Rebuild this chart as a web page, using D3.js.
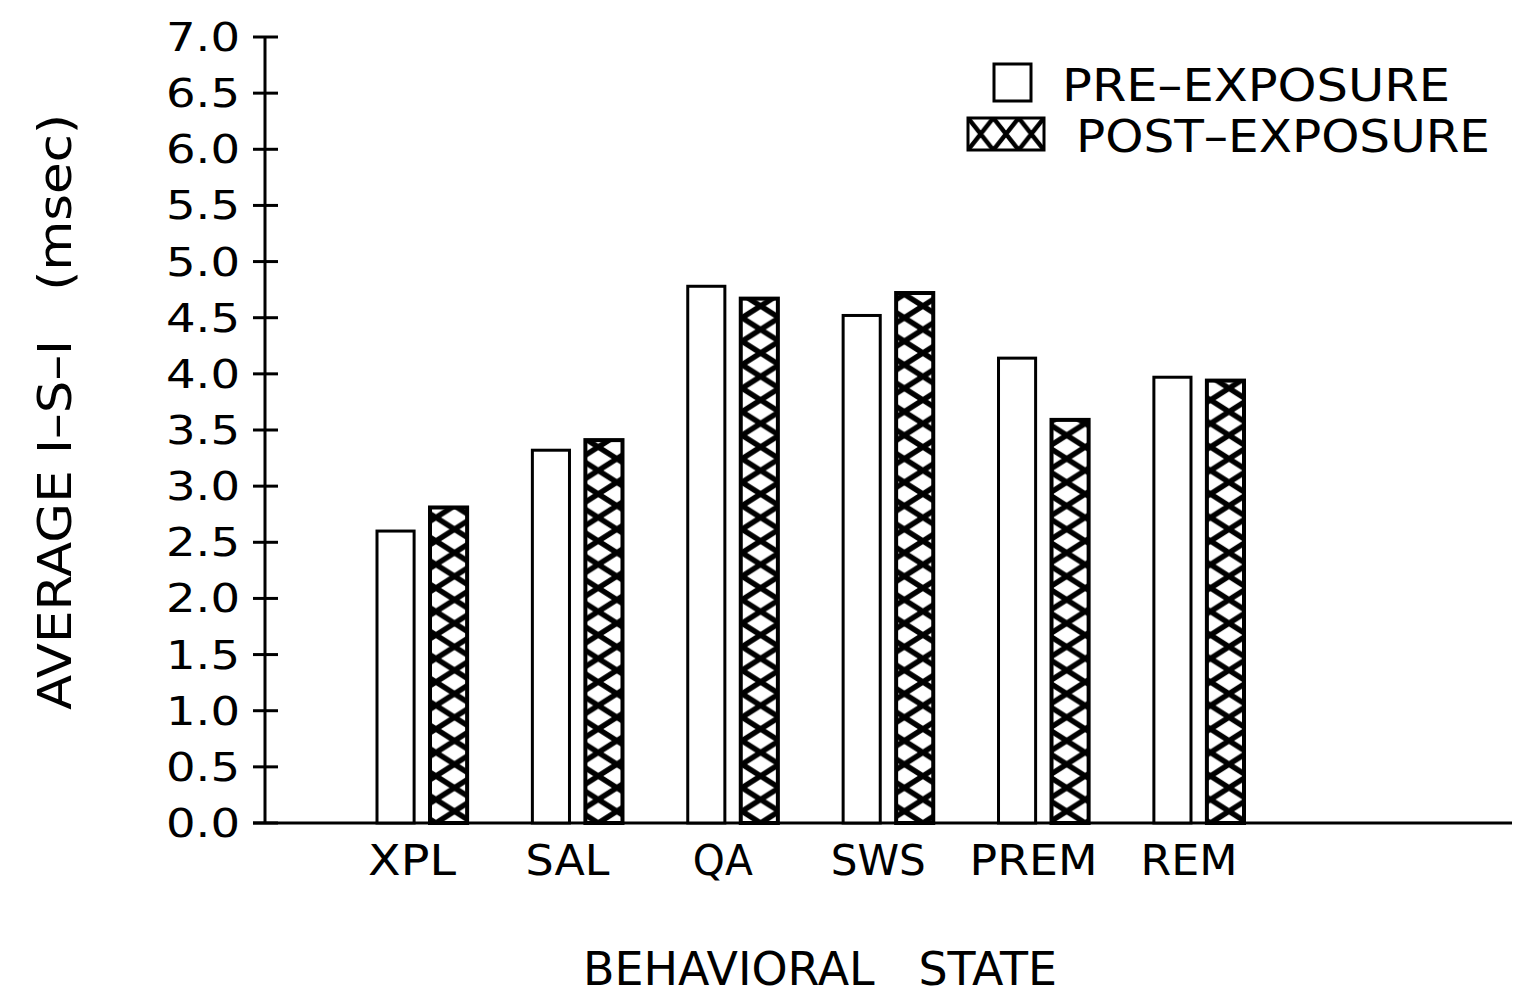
<!DOCTYPE html>
<html>
<head>
<meta charset="utf-8">
<script src="https://cdn.jsdelivr.net/npm/d3@7"></script>
<style>
  html, body { margin: 0; padding: 0; background: #fff; }
  svg text { font-family: "DejaVu Sans", sans-serif; fill: #000; }
</style>
</head>
<body>
<div id="app"></div>
<script>
// data
var states = ["XPL", "SAL", "QA", "SWS", "PREM", "REM"];
var preExposure = [2.60, 3.32, 4.78, 4.52, 4.14, 3.97];
var postExposure = [2.81, 3.41, 4.67, 4.72, 3.59, 3.94];
var seriesNames = ["PRE-EXPOSURE", "POST-EXPOSURE"];
var yTicks = [0, 0.5, 1, 1.5, 2, 2.5, 3, 3.5, 4, 4.5, 5, 5.5, 6, 6.5, 7];

var width = 1522, height = 997;

var svg = d3.select("#app").append("svg")
  .attr("width", width).attr("height", height);

var x = d3.scaleBand().domain(states).range([377, 1244]).paddingInner(0.42).paddingOuter(0);
var xs = d3.scaleBand().domain(seriesNames).range([0, x.bandwidth()]).paddingInner(0.3);
var y = d3.scaleLinear().domain([0, 7]).range([823, 37]);

var defs = svg.append("defs");

// cross-hatch tile: an X from corner to corner, anchored at the left edge of a shape
function hatch(id, x0, y0, w, h, sw) {
  var p = defs.append("pattern")
    .attr("id", id)
    .attr("patternUnits", "userSpaceOnUse")
    .attr("x", x0).attr("y", y0)
    .attr("width", w).attr("height", h);
  p.append("rect").attr("width", w).attr("height", h).attr("fill", "#fff");
  var ex = w / 4, ey = h / 4;
  p.append("path")
    .attr("d", "M" + (-ex) + "," + (-ey) + "L" + (w + ex) + "," + (h + ey) +
               "M" + (w + ex) + "," + (-ey) + "L" + (-ex) + "," + (h + ey))
    .attr("stroke", "#000").attr("stroke-width", sw).attr("fill", "none");
}

states.forEach(function (s, i) {
  hatch("hatch" + i, x(s) + xs(seriesNames[1]), y(0), xs.bandwidth(), 23.5, 5.5);
});

function fit(sel, w) {
  sel.attr("textLength", w).attr("lengthAdjust", "spacingAndGlyphs");
}

// y axis
var yAxis = svg.append("g").attr("transform", "translate(265,0)");
yAxis.append("line").attr("x1", 0).attr("x2", 0).attr("y1", y(7)).attr("y2", y(0))
  .attr("stroke", "#000").attr("stroke-width", 3);
yAxis.selectAll("line.tick").data(yTicks).enter().append("line")
  .attr("class", "tick")
  .attr("x1", -12).attr("x2", 13)
  .attr("y1", function (d) { return y(d); }).attr("y2", function (d) { return y(d); })
  .attr("stroke", "#000").attr("stroke-width", 3);
yAxis.selectAll("text").data(yTicks).enter().append("text")
  .attr("x", -25)
  .attr("y", function (d) { return y(d) + 14; })
  .attr("text-anchor", "end")
  .style("font-size", "39px")
  .text(function (d) { return d3.format(".1f")(d); })
  .each(function () { fit(d3.select(this), 74); });

// x axis line
svg.append("line").attr("x1", 253).attr("x2", 1512).attr("y1", y(0)).attr("y2", y(0))
  .attr("stroke", "#000").attr("stroke-width", 3);

// bars
var groups = svg.selectAll("g.state").data(states).enter().append("g")
  .attr("class", "state")
  .attr("transform", function (d) { return "translate(" + x(d) + ",0)"; });

groups.append("rect")
  .attr("x", xs(seriesNames[0]))
  .attr("y", function (d, i) { return y(preExposure[i]); })
  .attr("width", xs.bandwidth())
  .attr("height", function (d, i) { return y(0) - y(preExposure[i]); })
  .attr("fill", "#fff").attr("stroke", "#000").attr("stroke-width", 3);

groups.append("rect")
  .attr("x", xs(seriesNames[1]))
  .attr("y", function (d, i) { return y(postExposure[i]); })
  .attr("width", xs.bandwidth())
  .attr("height", function (d, i) { return y(0) - y(postExposure[i]); })
  .attr("fill", function (d, i) { return "url(#hatch" + i + ")"; })
  .attr("stroke", "#000").attr("stroke-width", 4);

// category labels
var labelW = { XPL: 88, SAL: 84, QA: 60, SWS: 95, PREM: 128, REM: 97 };
groups.append("text")
  .attr("x", x.bandwidth() / 2 - 10)
  .attr("y", 875)
  .attr("text-anchor", "middle")
  .style("font-size", "43px")
  .text(function (d) { return d; })
  .each(function (d) { fit(d3.select(this), labelW[d]); });

// axis titles
svg.append("text")
  .attr("transform", "translate(71,412) rotate(-90)")
  .attr("text-anchor", "middle")
  .style("font-size", "46px")
  .attr("xml:space", "preserve")
  .text("AVERAGE I–S–I   (msec)")
  .call(fit, 596);

svg.append("text")
  .attr("x", 820).attr("y", 985)
  .attr("text-anchor", "middle")
  .style("font-size", "46px")
  .attr("xml:space", "preserve")
  .text("BEHAVIORAL   STATE")
  .call(fit, 474);

// legend
hatch("hatchLegend", 968, 118, 76 / 3, 32, 4.5);
var legend = svg.append("g");
legend.append("rect").attr("x", 994).attr("y", 64).attr("width", 37).attr("height", 37)
  .attr("fill", "#fff").attr("stroke", "#000").attr("stroke-width", 3);
legend.append("text").attr("x", 1062).attr("y", 101)
  .style("font-size", "45px").text("PRE–EXPOSURE").call(fit, 388);
legend.append("rect").attr("x", 968).attr("y", 118).attr("width", 76).attr("height", 32)
  .attr("fill", "url(#hatchLegend)").attr("stroke", "#000").attr("stroke-width", 3);
legend.append("text").attr("x", 1076).attr("y", 152)
  .style("font-size", "45px").text("POST–EXPOSURE").call(fit, 414);
</script>
</body>
</html>
